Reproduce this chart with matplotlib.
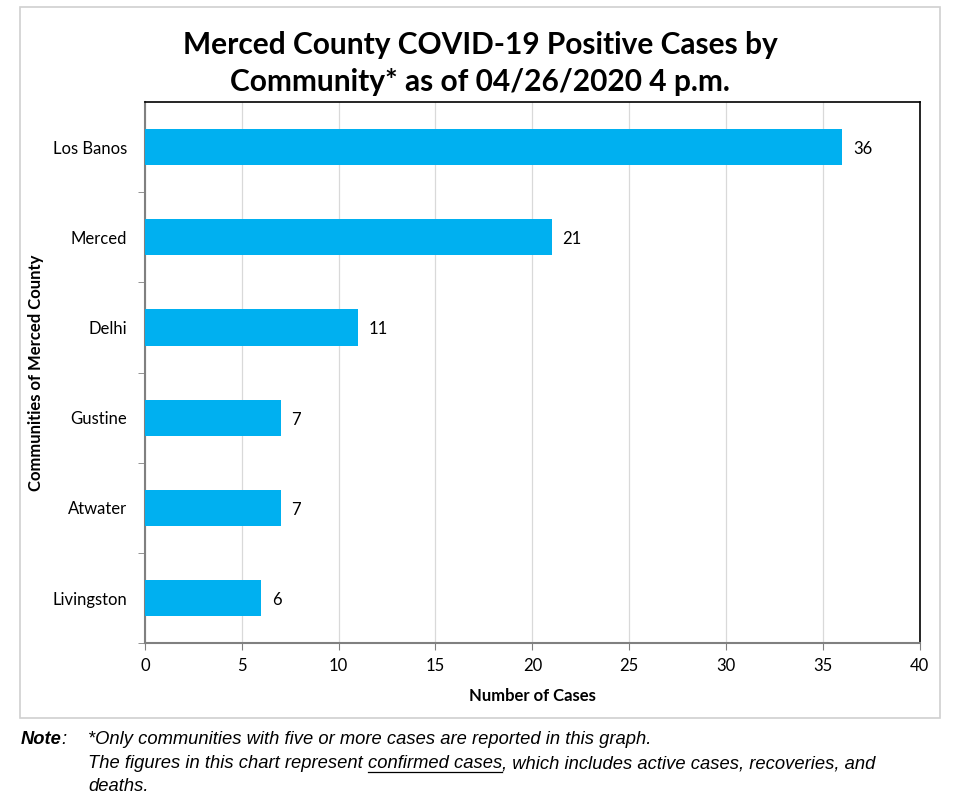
import matplotlib.pyplot as plt
from matplotlib.patches import Rectangle
from matplotlib import font_manager

communities = ["Los Banos", "Merced", "Delhi", "Gustine", "Atwater", "Livingston"]
cases = [36, 21, 11, 7, 7, 6]
x_ticks = [0, 5, 10, 15, 20, 25, 30, 35, 40]

plt.rcParams["font.family"] = ["Lato", "DejaVu Sans"]
names = {f.name for f in font_manager.fontManager.ttflist}
note_font = ["Liberation Sans Narrow"] if "Liberation Sans Narrow" in names else ["Liberation Sans"]

fig = plt.figure(figsize=(9.6, 8), dpi=100)

# outer chart frame
fig.patches.append(Rectangle((0.021, 0.1025), 0.958, 0.8885, transform=fig.transFigure,
                             fill=False, edgecolor="#d0d0d0", linewidth=1.2))

ax = fig.add_axes([0.151, 0.196, 0.807, 0.6765])

ypos = list(range(len(communities)))[::-1]
ax.barh(ypos, cases, height=0.4, color="#00b0f0", zorder=3)
for y, v in zip(ypos, cases):
    ax.text(v + 0.55, y - 0.02, str(v), va="center", ha="left", fontsize=12)

ax.set_xlim(0, 40)
ax.set_ylim(-0.5, len(communities) - 0.5)
ax.set_xticks(x_ticks)
ax.set_yticks(ypos)
ax.set_yticklabels(communities, fontsize=12)
ax.set_yticks([i - 0.5 for i in range(len(communities))], minor=True)
ax.tick_params(axis="y", which="major", length=0, pad=13)
ax.tick_params(axis="y", which="minor", length=5, color="#808080", direction="out")
ax.tick_params(axis="x", length=5, color="#808080", labelsize=12, pad=6)
ax.grid(axis="x", color="#d9d9d9", linewidth=0.9, zorder=0)

for s in ["top", "right"]:
    ax.spines[s].set_color("black")
    ax.spines[s].set_linewidth(1.2)
for s in ["left", "bottom"]:
    ax.spines[s].set_color("#808080")
    ax.spines[s].set_linewidth(1.5)

ax.set_xlabel("Number of Cases", fontsize=12, fontweight="bold", labelpad=10)
ax.set_ylabel("Communities of Merced County", fontsize=12, fontweight="bold", labelpad=6)

fig.text(0.5, 0.921, "Merced County COVID-19 Positive Cases by\nCommunity* as of 04/26/2020 4 p.m.",
         ha="center", va="center", fontsize=21.5, fontweight="bold", linespacing=1.38)

fs = 13.2
fig.text(0.022, 0.0755, "Note", fontsize=fs, fontweight="bold", style="italic", family=note_font, va="center")
fig.text(0.064, 0.0755, ":", fontsize=fs, style="italic", family=note_font, va="center")
fig.text(0.092, 0.0755, "*Only communities with five or more cases are reported in this graph.",
         fontsize=fs, style="italic", family=note_font, va="center")
t1 = fig.text(0.092, 0.045, "The figures in this chart represent ", fontsize=fs, style="italic",
              family=note_font, va="center")
fig.canvas.draw()
r = fig.canvas.get_renderer()
bb = t1.get_window_extent(r)
x2 = bb.x1 / fig.bbox.width
t2 = fig.text(x2, 0.045, "confirmed cases", fontsize=fs, style="italic", family=note_font, va="center")
bb2 = t2.get_window_extent(r)
x3 = bb2.x1 / fig.bbox.width
fig.lines.append(plt.Line2D([x2, x3], [bb2.y0 / fig.bbox.height + 0.001] * 2, transform=fig.transFigure,
                            color="black", linewidth=0.9))
fig.text(x3, 0.045, ", which includes active cases, recoveries, and", fontsize=fs, style="italic",
         family=note_font, va="center")
fig.text(0.092, 0.017, "deaths.", fontsize=fs, style="italic", family=note_font, va="center")

fig.savefig("out.png", dpi=100)
